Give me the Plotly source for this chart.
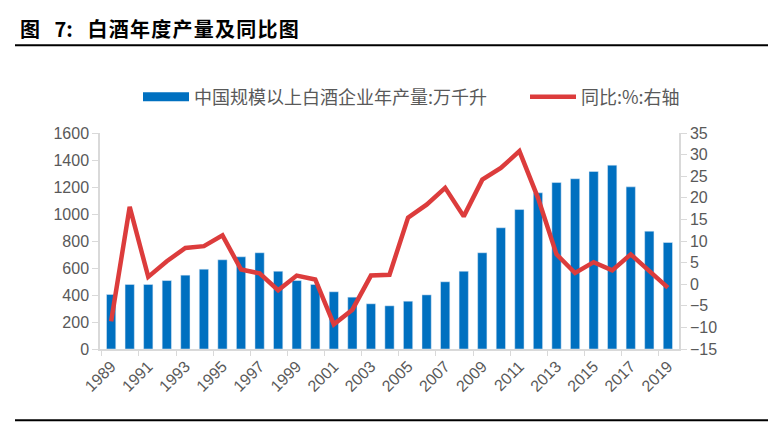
import plotly.graph_objects as go

years = list(range(1989, 2020))
output = [404, 478, 478, 507, 547, 591, 661, 683, 713, 576, 507, 478, 424, 384, 335,
          320, 354, 401, 498, 576, 713, 898, 1033, 1157, 1233, 1261, 1315, 1362, 1201, 873, 789]
yoy = [-8.6, 17.9, 1.7, 5.3, 8.4, 8.8, 11.3, 3.4, 2.5, -1.4, 2.0, 1.1, -9.3, -5.9, 2.0,
       2.2, 15.4, 18.4, 22.3, 15.7, 24.2, 26.9, 30.8, 20.0, 6.9, 2.6, 5.1, 3.2, 6.9, 3.2, -0.8]
xtick_years = list(range(1989, 2020, 2))
left_ticks = list(range(0, 1601, 200))
right_ticks = list(range(-15, 36, 5))

bar_name = "中国规模以上白酒企业年产量:万千升"
line_name = "同比:%:右轴"
title_text = "图\u2002 7:\u2002 白\u200a酒\u200a年\u200a度\u200a产\u200a量\u200a及\u200a同\u200a比\u200a图"

# page body has an 8px margin; figure drawn at offset (8, 8)
OFF = 8
W, H = 776 - OFF, 424 - OFF
ml, mt = 100 - OFF, 133 - OFF
pw, ph = 579, 216.5
mr, mb = W - ml - pw, H - mt - ph

def px_x(p):
    return (p - OFF - ml) / pw

def px_y(p):
    return (H - mb - (p - OFF)) / ph

legend_font = dict(family="Noto Sans CJK SC, sans-serif", size=18, color="#595959")

fig = go.Figure()
fig.add_trace(go.Bar(x=years, y=output, name=bar_name, marker_color="#0070C0",
                     width=0.5, yaxis="y", showlegend=False))
fig.add_trace(go.Scatter(x=[None], y=[None], name=bar_name, mode="lines",
                         line=dict(color="#0070C0", width=9), yaxis="y", legend="legend"))
fig.add_trace(go.Scatter(x=years, y=yoy, name=line_name, mode="lines",
                         line=dict(color="#DC3C3C", width=4.5), yaxis="y2", legend="legend2"))

axis_font = dict(family="Liberation Sans, Arial, sans-serif", size=16, color="#595959")

fig.update_layout(
    width=W, height=H,
    margin=dict(l=ml, r=mr, t=mt, b=mb, autoexpand=False),
    paper_bgcolor="white", plot_bgcolor="white",
    showlegend=True,
    legend=dict(orientation="h", x=px_x(138), xanchor="left", y=px_y(97), yanchor="middle",
                font=legend_font, itemwidth=46),
    legend2=dict(orientation="h", x=px_x(525), xanchor="left", y=px_y(97), yanchor="middle",
                 font=legend_font, itemwidth=46),
    title=dict(text=title_text, x=(20 - OFF) / W, xanchor="left", xref="container",
               y=1 - (30 - OFF) / H, yanchor="middle", yref="container",
               font=dict(family="Noto Sans CJK SC, sans-serif", size=20, color="black",
                         weight="bold")),
    xaxis=dict(range=[1988.4, 2019.6], tickmode="array", tickvals=xtick_years,
               ticktext=[str(y) for y in xtick_years], tickangle=-45,
               tickfont=axis_font, showgrid=False, zeroline=False,
               showline=True, linecolor="#D9D9D9", linewidth=1.5, ticks="",
               minor=dict(ticks="outside", tick0=1988.5, dtick=2, ticklen=5,
                          tickcolor="#D9D9D9", showgrid=False)),
    yaxis=dict(range=[0, 1600], tickmode="array", tickvals=left_ticks,
               tickfont=axis_font, showgrid=False, zeroline=False,
               showline=True, linecolor="#D9D9D9", linewidth=1.5,
               ticks="outside", ticklen=6, tickcolor="#D9D9D9"),
    yaxis2=dict(range=[-15, 35], tickmode="array", tickvals=right_ticks,
                overlaying="y", side="right",
                tickfont=axis_font, showgrid=False, zeroline=False,
                showline=True, linecolor="#D9D9D9", linewidth=1.5,
                ticks="outside", ticklen=6, tickcolor="#D9D9D9"),
)

fig.add_shape(type="line", xref="paper", yref="paper",
              x0=px_x(15), x1=px_x(776), y0=px_y(45), y1=px_y(45),
              line=dict(color="black", width=2))
fig.add_shape(type="line", xref="paper", yref="paper",
              x0=px_x(15), x1=px_x(776), y0=px_y(421), y1=px_y(421),
              line=dict(color="black", width=2))

fig.write_html("out.html")
